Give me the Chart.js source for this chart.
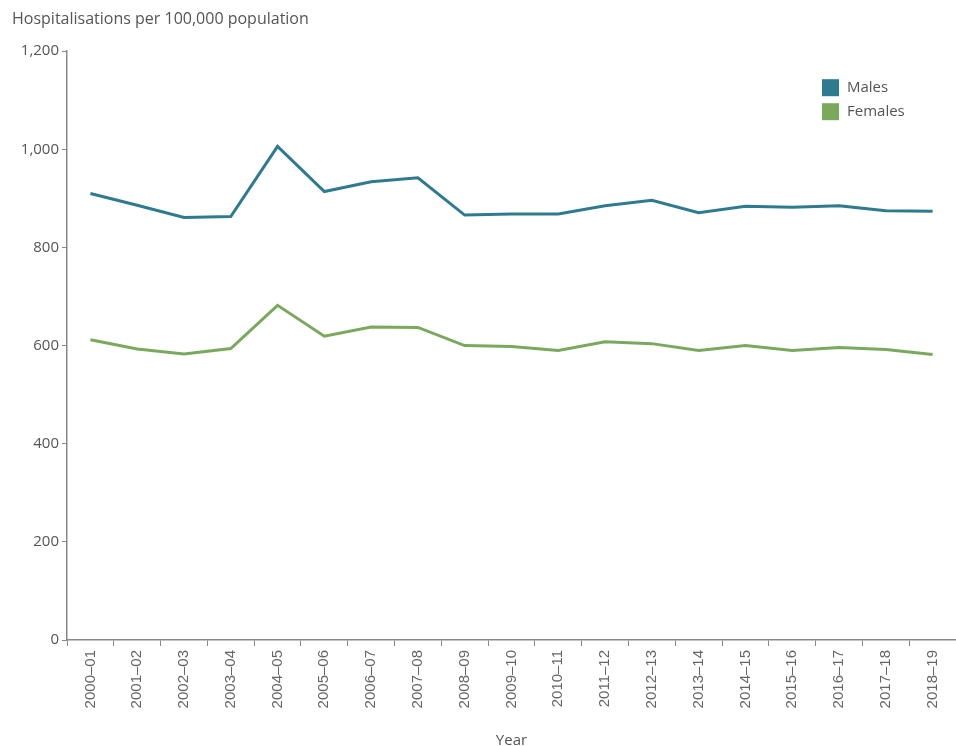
<!DOCTYPE html>
<html>
<head>
<meta charset="utf-8">
<script src="https://cdn.jsdelivr.net/npm/chart.js@4/dist/chart.umd.min.js"></script>
<style>
  html, body { margin: 0; padding: 0; background: #fff; }
  #wrap { width: 956px; height: 746px; }
</style>
</head>
<body>
<div id="wrap"><canvas id="hospChart"></canvas></div>
<script>
const years = ["2000–01", "2001–02", "2002–03", "2003–04", "2004–05", "2005–06", "2006–07",
  "2007–08", "2008–09", "2009–10", "2010–11", "2011–12", "2012–13", "2013–14", "2014–15",
  "2015–16", "2016–17", "2017–18", "2018–19"];
const males = [910, 886, 861, 863, 1006, 914, 934, 942, 866, 868, 868, 885, 896, 871, 884, 882, 885, 875, 874];
const females = [612, 593, 583, 594, 682, 619, 638, 637, 600, 598, 590, 608, 604, 590, 600, 590, 596, 592, 582];
const yTicks = [0, 200, 400, 600, 800, 1000, 1200];

const maleColour = '#2e7b91';
const femaleColour = '#7aa95c';
const textColour = '#555';

// legend drawn in the top right corner of the plot
const cornerLegend = {
  id: 'cornerLegend',
  afterDraw(chart) {
    const { ctx, chartArea } = chart;
    const x = chartArea.right - 134;
    let y = chartArea.top + 28;
    ctx.save();
    ctx.font = '15px "Open Sans"';
    ctx.textBaseline = 'middle';
    chart.data.datasets.forEach(ds => {
      ctx.fillStyle = ds.borderColor;
      ctx.fillRect(x, y, 17, 17);
      ctx.fillStyle = textColour;
      ctx.fillText(ds.label, x + 25, y + 9);
      y += 24;
    });
    ctx.restore();
  }
};

const ctx = document.getElementById('hospChart').getContext('2d');

new Chart(ctx, {
  type: 'line',
  data: {
    labels: years,
    datasets: [
      { label: 'Males', data: males, borderColor: maleColour, backgroundColor: maleColour },
      { label: 'Females', data: females, borderColor: femaleColour, backgroundColor: femaleColour }
    ]
  },
  options: {
    responsive: true,
    maintainAspectRatio: false,
    animation: false,
    layout: { padding: { left: 12, right: 0, top: 0, bottom: 0 } },
    elements: {
      line: { borderWidth: 3, tension: 0 },
      point: { radius: 0, hoverRadius: 0 }
    },
    scales: {
      x: {
        offset: true,
        afterFit(scale) { scale.height = 106; },
        grid: { display: true, offset: true, drawOnChartArea: false, drawTicks: true, tickLength: 6, color: '#888' },
        border: { display: true, color: '#888', width: 1.5 },
        ticks: { minRotation: 90, maxRotation: 90, autoSkip: false, color: '#666', padding: 4,
          font: { family: 'Liberation Sans', size: 15 } },
        title: { display: true, text: 'Year', color: textColour, padding: { top: 4, bottom: -4 },
          font: { family: 'Open Sans', size: 15 } }
      },
      y: {
        min: 0,
        max: 1200,
        afterBuildTicks(scale) { scale.ticks = yTicks.map(v => ({ value: v })); },
        afterFit(scale) { scale.width = 55; },
        grid: { display: true, drawOnChartArea: false, drawTicks: true, tickLength: 5, color: '#888' },
        border: { display: true, color: '#888', width: 1.5 },
        ticks: { color: textColour, padding: 3, font: { family: 'Open Sans', size: 15 } }
      }
    },
    plugins: {
      legend: { display: false },
      tooltip: { enabled: false },
      title: {
        display: true,
        text: 'Hospitalisations per 100,000 population',
        align: 'start',
        color: textColour,
        font: { family: 'Open Sans', size: 16, weight: 'normal' },
        padding: { top: 10, bottom: 22 }
      }
    }
  },
  plugins: [cornerLegend]
});
</script>
</body>
</html>
